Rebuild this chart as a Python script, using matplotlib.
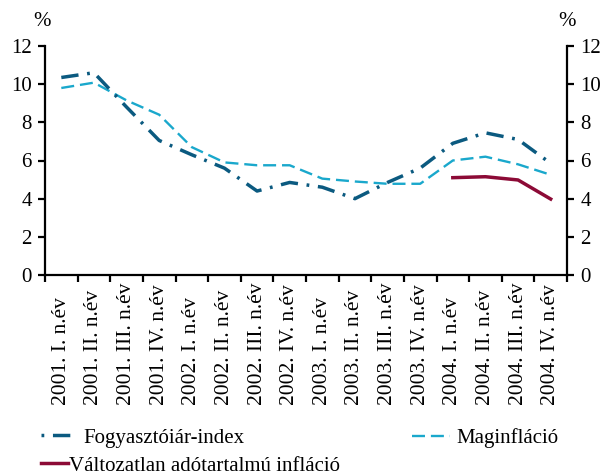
import matplotlib
matplotlib.use("Agg")
import matplotlib.pyplot as plt
from matplotlib.lines import Line2D
import numpy as np

categories = ["2001. I. n.év", "2001. II. n.év", "2001. III. n.év", "2001. IV. n.év",
              "2002. I. n.év", "2002. II. n.év", "2002. III. n.év", "2002. IV. n.év",
              "2003. I. n.év", "2003. II. n.év", "2003. III. n.év", "2003. IV. n.év",
              "2004. I. n.év", "2004. II. n.év", "2004. III. n.év", "2004. IV. n.év"]
fogyasztoi = [10.35, 10.6, 8.8, 7.05, 6.3, 5.6, 4.4, 4.85, 4.6, 4.0, 4.85, 5.6, 6.9, 7.45, 7.1, 5.85]
magin = [9.8, 10.08, 9.15, 8.4, 6.7, 5.9, 5.75, 5.75, 5.05, 4.9, 4.78, 4.78, 6.0, 6.2, 5.8, 5.25]
valtozatlan = [5.1, 5.15, 4.98, 3.98]
valt_start = 12
yticks = [0, 2, 4, 6, 8, 10, 12]

plt.rcParams['font.family'] = ['Liberation Serif', 'DejaVu Serif']
FS = 15
c_dark = "#0b5a80"
c_light = "#1aa8cc"
c_red = "#8c0a36"

fig = plt.figure(figsize=(6.04, 4.76), dpi=100)
ax = fig.add_axes([45/604, 1-275/476, 522/604, 229/476])

x = np.arange(len(categories))
ax.plot(x, magin, color=c_light, lw=1.7, dashes=(5.5, 2.5), label="Maginfláció")
ax.plot(x, fogyasztoi, color=c_dark, lw=2.5, dashes=(5, 2.5, 0.8, 2.5), label="Fogyasztóiár-index")
ax.plot(x[valt_start:], valtozatlan, color=c_red, lw=2.5, label="Változatlan adótartalmú infláció")

ax.set_xlim(-0.5, len(categories) - 0.5)
ax.set_ylim(0, 12)
ax.set_yticks(yticks)
ax.set_yticklabels([str(v) for v in yticks], fontsize=FS)
ax.tick_params(axis='y', which='both', left=True, right=True, labelleft=True, labelright=True,
               direction='out', length=5, width=1.6, pad=4.5)
ax.set_xticks(np.arange(len(categories) + 1) - 0.5)
ax.set_xticklabels([])
ax.set_xticks(x, minor=True)
ax.set_xticklabels(categories, minor=True, rotation=90, fontsize=15.5, va='bottom', ha='center')
ax.tick_params(axis='x', which='major', direction='out', length=5, width=1.6)
ax.tick_params(axis='x', which='minor', length=0, pad=130 * 72 / 100)
for s in ['left', 'right', 'bottom']:
    ax.spines[s].set_linewidth(1.6)
ax.spines['top'].set_visible(False)

ax.text(-0.005, 1.109, "%", transform=ax.transAxes, ha='center', va='center', fontsize=FS)
ax.text(1.0, 1.109, "%", transform=ax.transAxes, ha='center', va='center', fontsize=FS)

h_f = Line2D([], [], color=c_dark, lw=2.5, dashes=(0.8, 2.5, 5, 2.5))
h_m = Line2D([], [], color=c_light, lw=1.7, dashes=(5.5, 2.5))
h_v = Line2D([], [], color=c_red, lw=2.5)
common = dict(frameon=False, fontsize=FS, handlelength=1.7, handletextpad=0.35, borderaxespad=0, borderpad=0)
fig.legend([h_f], ["Fogyasztóiár-index"], loc='center left', bbox_to_anchor=(41/604, 1-438/476), **common)
fig.legend([h_m], ["Maginfláció"], loc='center left', bbox_to_anchor=(412/604, 1-438/476),
           **dict(common, handlelength=1.8))
fig.legend([h_v], ["Változatlan adótartalmú infláció"], loc='center left', bbox_to_anchor=(41/604, 1-466/476),
           **dict(common, handletextpad=0.05, handlelength=1.3))

fig.savefig("out.png", dpi=100)
